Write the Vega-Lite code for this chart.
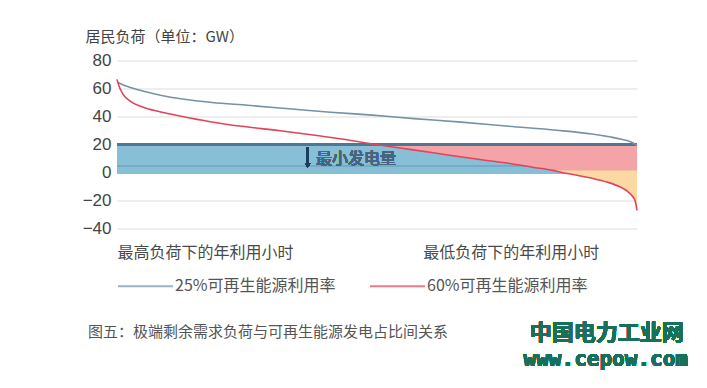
{
  "$schema": "https://vega.github.io/schema/vega-lite/v6.json",
  "width": 520,
  "height": 168,
  "autosize": "none",
  "padding": {"left": 117, "top": 60.5, "right": 70, "bottom": 159.5},
  "background": "white",
  "config": {"view": {"stroke": null}, "font": "Noto Sans CJK SC"},
  "title": {
    "text": "图五：极端剩余需求负荷与可再生能源发电占比间关系",
    "orient": "bottom",
    "anchor": "start",
    "frame": "group",
    "font": "Noto Sans CJK SC",
    "fontSize": 15,
    "fontWeight": "normal",
    "color": "#555555",
    "offset": 20,
    "dx": -29,
    "dy": -65
  },
  "datasets": {
    "curves": [
      {"h": 0, "v": 64.5, "series": "25%可再生能源利用率"},
      {"h": 200, "v": 61, "series": "25%可再生能源利用率"},
      {"h": 450, "v": 58, "series": "25%可再生能源利用率"},
      {"h": 750, "v": 55, "series": "25%可再生能源利用率"},
      {"h": 1100, "v": 52.5, "series": "25%可再生能源利用率"},
      {"h": 1600, "v": 50, "series": "25%可再生能源利用率"},
      {"h": 2200, "v": 48, "series": "25%可再生能源利用率"},
      {"h": 2900, "v": 45.5, "series": "25%可再生能源利用率"},
      {"h": 3600, "v": 43, "series": "25%可再生能源利用率"},
      {"h": 4300, "v": 41, "series": "25%可再生能源利用率"},
      {"h": 5000, "v": 38.5, "series": "25%可再生能源利用率"},
      {"h": 5800, "v": 36, "series": "25%可再生能源利用率"},
      {"h": 6600, "v": 33, "series": "25%可再生能源利用率"},
      {"h": 7400, "v": 30.2, "series": "25%可再生能源利用率"},
      {"h": 8000, "v": 27.5, "series": "25%可再生能源利用率"},
      {"h": 8300, "v": 25.5, "series": "25%可再生能源利用率"},
      {"h": 8500, "v": 23.8, "series": "25%可再生能源利用率"},
      {"h": 8650, "v": 22, "series": "25%可再生能源利用率"},
      {"h": 8760, "v": 19.5, "series": "25%可再生能源利用率"},
      {"h": 0, "v": 66.5, "series": "60%可再生能源利用率"},
      {"h": 40, "v": 61, "series": "60%可再生能源利用率"},
      {"h": 100, "v": 56, "series": "60%可再生能源利用率"},
      {"h": 220, "v": 51, "series": "60%可再生能源利用率"},
      {"h": 440, "v": 46.6, "series": "60%可再生能源利用率"},
      {"h": 720, "v": 43.4, "series": "60%可再生能源利用率"},
      {"h": 1100, "v": 40, "series": "60%可再生能源利用率"},
      {"h": 1570, "v": 36.3, "series": "60%可再生能源利用率"},
      {"h": 2100, "v": 33, "series": "60%可再生能源利用率"},
      {"h": 2750, "v": 29.8, "series": "60%可再生能源利用率"},
      {"h": 3400, "v": 26.2, "series": "60%可再生能源利用率"},
      {"h": 3900, "v": 23.2, "series": "60%可再生能源利用率"},
      {"h": 4350, "v": 20, "series": "60%可再生能源利用率"},
      {"h": 4800, "v": 17.3, "series": "60%可再生能源利用率"},
      {"h": 5300, "v": 14.3, "series": "60%可再生能源利用率"},
      {"h": 5780, "v": 11.2, "series": "60%可再生能源利用率"},
      {"h": 6200, "v": 8.8, "series": "60%可再生能源利用率"},
      {"h": 6620, "v": 6.4, "series": "60%可再生能源利用率"},
      {"h": 7000, "v": 3.8, "series": "60%可再生能源利用率"},
      {"h": 7345, "v": 1.5, "series": "60%可再生能源利用率"},
      {"h": 7460, "v": 0.4, "series": "60%可再生能源利用率"},
      {"h": 7750, "v": -2, "series": "60%可再生能源利用率"},
      {"h": 8020, "v": -4.3, "series": "60%可再生能源利用率"},
      {"h": 8250, "v": -6.8, "series": "60%可再生能源利用率"},
      {"h": 8470, "v": -10.2, "series": "60%可再生能源利用率"},
      {"h": 8600, "v": -13.5, "series": "60%可再生能源利用率"},
      {"h": 8690, "v": -17.3, "series": "60%可再生能源利用率"},
      {"h": 8730, "v": -20.5, "series": "60%可再生能源利用率"},
      {"h": 8760, "v": -27, "series": "60%可再生能源利用率"}
    ]
  },
  "data": {"name": "curves"},
  "resolve": {"axis": {"y": "shared"}},
  "layer": [
    {
      "mark": {"type": "rect", "color": "#86bfd6"},
      "encoding": {
        "x": {"datum": 0, "type": "quantitative", "scale": {"domain": [0, 8760], "nice": false, "zero": false},
          "axis": {"values": [0, 5150], "labelExpr": "datum.value == 0 ? '最高负荷下的年利用小时' : '最低负荷下的年利用小时'",
            "labelAlign": "left", "labelBaseline": "middle", "labelPadding": 23.5, "labelFontSize": 16,
            "labelFont": "Noto Sans CJK SC", "labelColor": "#4a4a4a", "labelFlush": false, "labelOverlap": false, "labelBound": false,
            "domain": false, "ticks": false, "grid": false, "title": null}},
        "x2": {"datum": 8760},
        "y": {"datum": 20, "type": "quantitative", "scale": {"domain": [-40, 80], "nice": false, "zero": false},
          "axis": {"values": [-40, -20, 0, 20, 40, 60, 80], "tickCount": 7, "grid": true, "gridColor": "#dddddd", "gridWidth": 1,
            "domain": false, "ticks": false, "labelPadding": 6, "labelFontSize": 17, "labelFont": "Liberation Sans",
            "labelOverlap": false, "labelFlush": false, "labelBound": false,
            "labelColor": "#444444", "title": "居民负荷（单位：GW）", "titleAngle": 0, "titleX": -32, "titleY": -24,
            "titleAlign": "left", "titleBaseline": "middle", "titleFontSize": 15, "titleFontWeight": "normal",
            "titleFont": "Noto Sans CJK SC", "titleColor": "#444444"}},
        "y2": {"datum": -0.7}
      }
    },
    {
      "mark": {"type": "rule", "color": "#74acc5", "strokeWidth": 1},
      "encoding": {"x": {"datum": 0, "type": "quantitative"}, "x2": {"datum": 8760}, "y": {"datum": 4.5, "type": "quantitative"}}
    },
    {
      "transform": [{"filter": "datum.series == '60%可再生能源利用率' && datum.v <= 20"}],
      "mark": {"type": "area", "color": "#f4a3a6", "opacity": 1, "interpolate": "monotone"},
      "encoding": {"x": {"field": "h", "type": "quantitative"}, "y": {"field": "v", "type": "quantitative"}, "y2": {"datum": 20}}
    },
    {
      "transform": [{"filter": "datum.series == '60%可再生能源利用率' && datum.v <= 1.5"}],
      "mark": {"type": "area", "color": "#fcd9a2", "opacity": 1, "interpolate": "monotone"},
      "encoding": {"x": {"field": "h", "type": "quantitative"}, "y": {"field": "v", "type": "quantitative"}, "y2": {"datum": 1.5}}
    },
    {
      "mark": {"type": "rule", "color": "#4d7891", "strokeWidth": 2},
      "encoding": {"x": {"datum": 0, "type": "quantitative"}, "x2": {"datum": 8760}, "y": {"datum": 20, "type": "quantitative"}}
    },
    {
      "mark": {"type": "line", "strokeWidth": 1.6, "interpolate": "monotone"},
      "encoding": {
        "x": {"field": "h", "type": "quantitative"},
        "y": {"field": "v", "type": "quantitative", "axis": {"values": [-40, -20, 0, 20, 40, 60, 80], "labelOverlap": false}},
        "color": {"field": "series", "type": "nominal",
          "scale": {"domain": ["25%可再生能源利用率", "60%可再生能源利用率"], "range": ["#7592a5", "#e3435c"]},
          "legend": {"orient": "none", "legendX": 0, "legendY": 197, "direction": "horizontal", "title": null,
            "symbolType": "stroke", "symbolSize": 3025, "symbolStrokeWidth": 2, "symbolOpacity": 0.7,
            "labelFontSize": 16, "labelFont": "Noto Sans CJK SC", "labelColor": "#555555", "labelOffset": 1,
            "columnPadding": 30, "labelLimit": 300}}
      }
    },
    {
      "mark": {"type": "rule", "color": "#1f3d5c", "strokeWidth": 2},
      "encoding": {"x": {"datum": 3213, "type": "quantitative"}, "y": {"datum": 17.6, "type": "quantitative"}, "y2": {"datum": 6}}
    },
    {
      "mark": {"type": "point", "shape": "triangle-down", "filled": true, "color": "#1f3d5c", "size": 28, "opacity": 1},
      "encoding": {"x": {"datum": 3213, "type": "quantitative"}, "y": {"datum": 5.2, "type": "quantitative"}}
    },
    {
      "mark": {"type": "text", "text": "最小发电量", "align": "left", "baseline": "middle", "fontSize": 16, "fontWeight": 400, "font": "Noto Sans CJK SC", "color": "#48657f"},
      "encoding": {"x": {"datum": 3352, "type": "quantitative"}, "y": {"datum": 10, "type": "quantitative"}}
    },
    {
      "mark": {"type": "text", "text": "中国电力工业网", "align": "center", "baseline": "middle", "fontSize": 22, "fontWeight": "bold", "font": "Noto Sans CJK SC", "color": "#17705a"},
      "encoding": {"x": {"datum": 8250, "type": "quantitative"}, "y": {"datum": -114.9, "type": "quantitative"}}
    },
    {
      "mark": {"type": "text", "text": "www.cepow.com", "align": "center", "baseline": "middle", "fontSize": 21, "fontWeight": "bold", "font": "DejaVu Sans Mono", "color": "#17705a"},
      "encoding": {"x": {"datum": 8234, "type": "quantitative"}, "y": {"datum": -133.9, "type": "quantitative"}}
    }
  ]
}
